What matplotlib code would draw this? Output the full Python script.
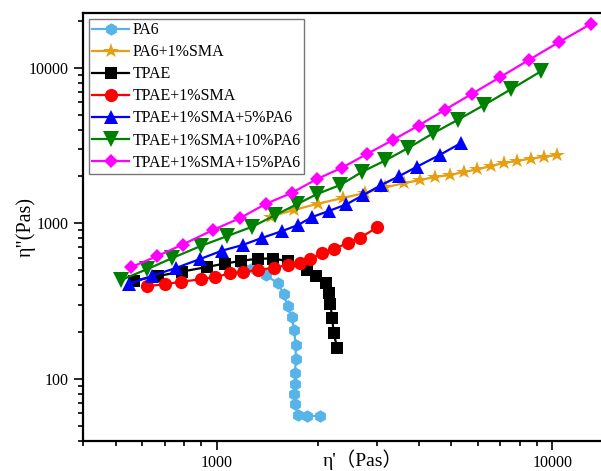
import matplotlib
matplotlib.use("Agg")
import matplotlib.pyplot as plt
from matplotlib.ticker import LogLocator, NullFormatter, FuncFormatter

plt.rcParams['font.family'] = ['Liberation Serif', 'Noto Sans CJK SC', 'DejaVu Sans']

# eta' (storage-like) vs eta'' (loss-like) viscosity, Pa·s
pa6_x = [1171, 1286, 1399, 1518, 1582, 1629, 1671, 1702, 1718, 1720, 1712, 1712, 1700, 1712, 1745, 1852, 2038]
pa6_y = [555, 513, 465, 413, 353, 296, 249, 206, 166, 134, 109, 92.3, 80.2, 68.6, 58.7, 57.7, 57.7]

pa6_sma_x = [1447, 1698, 2004, 2377, 2765, 3170, 3606, 4043, 4479, 4964, 5445, 5972, 6559, 7185, 7852, 8614, 9447, 10350]
pa6_sma_y = [1103, 1218, 1337, 1455, 1567, 1700, 1809, 1900, 1987, 2046, 2139, 2220, 2339, 2445, 2518, 2606, 2673, 2753]

tpae_x = [567, 668, 787, 934, 1056, 1179, 1324, 1472, 1626, 1861, 1970, 2110, 2158, 2183, 2208, 2233, 2286]
tpae_y = [428, 458, 489, 523, 551, 572, 593, 593, 572, 500, 458, 413, 354, 302, 245, 196, 157]

tpae_sma_x = [622, 700, 782, 896, 990, 1093, 1200, 1327, 1480, 1629, 1769, 1903, 2062, 2233, 2457, 2681, 3005]
tpae_sma_y = [395, 405, 421, 436, 451, 476, 488, 500, 518, 539, 558, 589, 644, 683, 747, 810, 940]

pa5_x = [549, 644, 755, 892, 1040, 1195, 1361, 1568, 1747, 1926, 2158, 2430, 2736, 3095, 3484, 3953, 4619, 5334]
pa5_y = [407, 461, 515, 589, 668, 725, 804, 892, 975, 1098, 1200, 1321, 1521, 1765, 2002, 2314, 2753, 3274]

pa10_x = [518, 622, 738, 896, 1076, 1277, 1497, 1741, 1993, 2337, 2718, 3181, 3723, 4419, 5226, 6234, 7539, 9225]
pa10_y = [431, 508, 598, 714, 828, 951, 1131, 1331, 1544, 1765, 2149, 2537, 3053, 3797, 4626, 5735, 7292, 9467]

pa15_x = [557, 666, 792, 976, 1171, 1399, 1671, 1993, 2365, 2807, 3354, 3996, 4780, 5760, 6990, 8527, 10470, 13060]
pa15_y = [523, 616, 730, 906, 1077, 1331, 1567, 1929, 2280, 2795, 3439, 4251, 5364, 6803, 8711, 11260, 14640, 19200]

labels = ['PA6', 'PA6+1%SMA', 'TPAE', 'TPAE+1%SMA',
          'TPAE+1%SMA+5%PA6', 'TPAE+1%SMA+10%PA6', 'TPAE+1%SMA+15%PA6']
colors = ['#56B4E9', '#E69F12', '#000000', '#FF0000', '#0000FF', '#008000', '#FF00FF']
markers = ['h', '*', 's', 'o', '^', 'v', 'D']
msizes = [9, 11.5, 8, 9.5, 10.5, 11, 7.5]

series = [(pa6_x, pa6_y), (pa6_sma_x, pa6_sma_y), (tpae_x, tpae_y),
          (tpae_sma_x, tpae_sma_y), (pa5_x, pa5_y), (pa10_x, pa10_y), (pa15_x, pa15_y)]

fig = plt.figure(figsize=(6.01, 4.71), dpi=100)
ax = fig.add_axes([0.1381, 0.0643, 0.9493, 0.9081])

for (xs, ys), lab, c, m, ms in zip(series, labels, colors, markers, msizes):
    ax.plot(xs, ys, color=c, marker=m, markersize=ms, markeredgewidth=0,
            linewidth=1.6, label=lab)

ax.set_xscale('log')
ax.set_yscale('log')
ax.set_xlim(400, 20000)
ax.set_ylim(40, 22500)

fmt = FuncFormatter(lambda v, p: f"{v:.0f}")
for axis in (ax.xaxis, ax.yaxis):
    axis.set_major_locator(LogLocator(base=10, numticks=10))
    axis.set_minor_locator(LogLocator(base=10, subs=range(2, 10), numticks=100))
    axis.set_major_formatter(fmt)
    axis.set_minor_formatter(NullFormatter())

ax.tick_params(which='major', direction='out', length=6.5, width=1.2, labelsize=11.5, pad=4)
ax.tick_params(which='minor', direction='out', length=3.5, width=1.2)
ax.tick_params(top=False, right=False, which='both')
for s in ax.spines.values():
    s.set_linewidth(1.6)

xl = ax.set_xlabel("η'（Pas）", fontsize=14)
ax.xaxis.set_label_coords(0.491, -0.045)
xl.set_va('center')
ax.set_ylabel('η"(Pas)', fontsize=14.5, labelpad=-5)

leg = ax.legend(loc='upper left', bbox_to_anchor=(89.3 / 601, 1 - 19 / 471),
                bbox_transform=fig.transFigure, borderaxespad=0,
                fontsize=11.5, frameon=True, fancybox=False,
                handlelength=2.3, handletextpad=0.2, labelspacing=0.38,
                borderpad=0.2)
leg.get_frame().set_edgecolor('#555555')
leg.get_frame().set_linewidth(1.0)

fig.savefig('out.png', dpi=100)
